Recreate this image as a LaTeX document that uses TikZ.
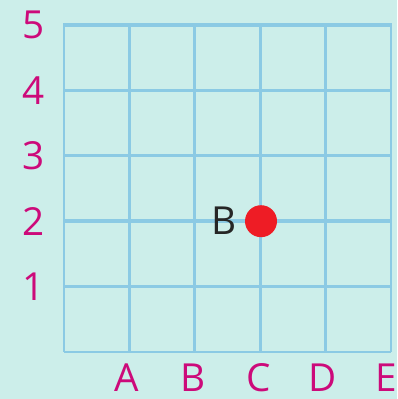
\documentclass[tikz,border=0pt]{standalone}
\usepackage{fontspec}
\setmainfont{Open Sans}
\usepackage{tikz}
\usetikzlibrary{positioning}

\definecolor{bgteal}{HTML}{CCEEEA}
\definecolor{gridblue}{HTML}{8BCAE4}
\definecolor{axismag}{HTML}{CC0A7A}
\definecolor{dotred}{HTML}{EE1C25}

\begin{document}
\begin{tikzpicture}[
    x=0.02cm, y=-0.02cm,
    gridline/.style={draw=gridblue, line width=1.5pt},
    boldline/.style={draw=gridblue, line width=2.4pt},
    axislabel/.style={text=axismag, font=\fontsize{22}{26}\selectfont, inner sep=0pt},
    pointlabel/.style={text=black!85, font=\fontsize{22}{26}\selectfont, inner sep=0pt},
    marker/.style={circle, fill=dotred, minimum size=0.64cm, inner sep=0pt}
]

% Background
\fill[bgteal] (0,0) rectangle (397,399);
\useasboundingbox (0,0) rectangle (397,399);

% Grid
\foreach \x in {64,129.4,194.8,260.2,325.6,391}
    \draw[gridline] (\x,25) -- (\x,352);
\foreach \y in {90.4,155.8,286.6,352}
    \draw[gridline] (64,\y) -- (391,\y);
\draw[boldline] (63,25) -- (392,25);
\draw[boldline] (64,221.2) -- (392,221.2);

% Row labels
\node[axislabel] (r5) at (34,25) {5};
\node[axislabel] (r4) at (34,90.4) {4};
\node[axislabel] (r3) at (34,155.8) {3};
\node[axislabel] (r2) at (34,221.2) {2};
\node[axislabel] (r1) at (34,286.6) {1};

% Column labels
\node[axislabel] (cA) at (127,378) {A};
\node[axislabel] (cB) at (193,378) {B};
\node[axislabel] (cC) at (259,378) {C};
\node[axislabel] (cD) at (323,378) {D};
\node[axislabel] (cE) at (386,378) {E};

% Point B
\node[marker] (ptB) at (261,221.2) {};
\node[pointlabel, left=0.15cm of ptB] (ptBlabel) {B};

\end{tikzpicture}
\end{document}
